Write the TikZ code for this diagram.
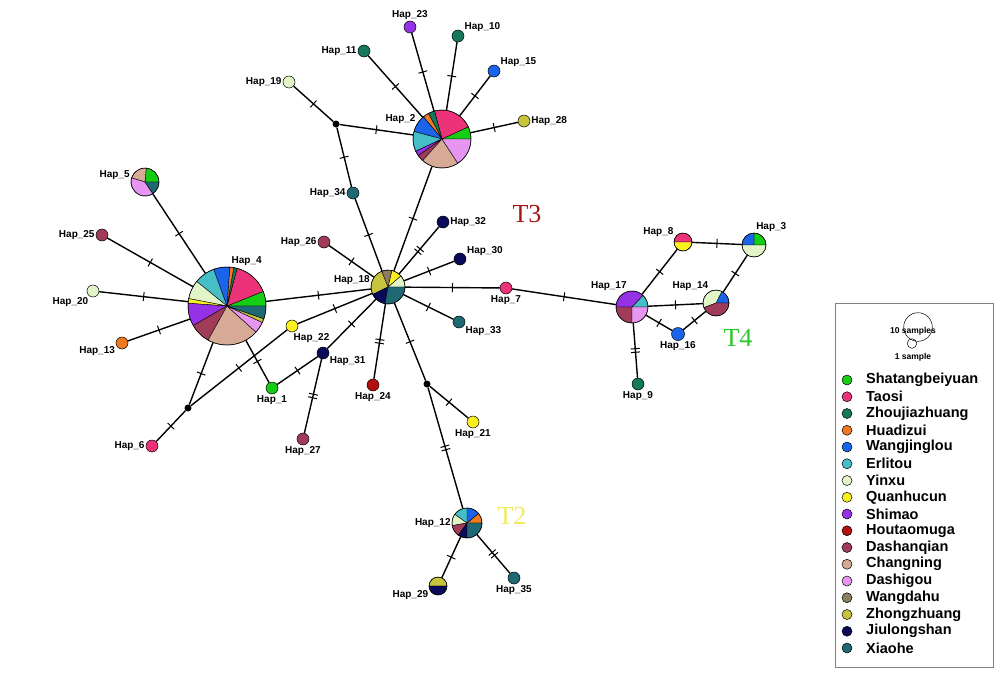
\documentclass[tikz,border=0pt]{standalone}
\usepackage{fontspec}
\setmainfont{Liberation Sans}
\newfontfamily\serifT{Liberation Serif}
\usetikzlibrary{decorations.markings}

\definecolor{shatang}{RGB}{20,205,20}
\definecolor{taosi}{RGB}{236,50,120}
\definecolor{zhoujia}{RGB}{20,120,90}
\definecolor{huadizui}{RGB}{240,120,30}
\definecolor{wangjing}{RGB}{25,100,235}
\definecolor{erlitou}{RGB}{70,190,200}
\definecolor{yinxu}{RGB}{225,245,200}
\definecolor{quanhu}{RGB}{250,240,30}
\definecolor{shimao}{RGB}{150,50,230}
\definecolor{houtao}{RGB}{180,15,15}
\definecolor{dashan}{RGB}{160,60,90}
\definecolor{changning}{RGB}{215,170,150}
\definecolor{dashigou}{RGB}{230,150,240}
\definecolor{wangdahu}{RGB}{140,125,95}
\definecolor{zhongzh}{RGB}{200,195,60}
\definecolor{jiulong}{RGB}{10,10,90}
\definecolor{xiaohe}{RGB}{30,105,115}
\definecolor{tred}{RGB}{170,20,20}
\definecolor{tyellow}{RGB}{240,235,90}
\definecolor{tgreen}{RGB}{40,200,40}

\tikzset{
  hap/.style={circle, draw=black, line width=0.5pt, inner sep=0pt, minimum size=12pt},
  piehap/.style={circle, inner sep=0pt},
  median/.style={circle, fill=black, inner sep=0pt, minimum size=7pt},
  lab/.style={font=\bfseries\fontsize{10}{12}\selectfont, inner sep=1pt},
  link/.style={line width=1.4pt},
  onetick/.style={link, postaction={decorate, decoration={markings,
      mark=at position 0.5 with {\draw[line width=1pt] (0,-4.5pt) -- (0,4.5pt);}}}},
  twotick/.style={link, postaction={decorate, decoration={markings,
      mark=at position 0.5 with {\draw[line width=1pt] (-1.8pt,-4.5pt) -- (-1.8pt,4.5pt) (1.8pt,-4.5pt) -- (1.8pt,4.5pt);}}}},
}

% pie on a node: node, radius, list of start/end/colour
\newcommand{\hapie}[3]{%
  \foreach \a/\b/\c in {#3} {
    \filldraw[fill=\c, draw=black, line width=0.4pt] (#1.center) -- ++(-\a:#2)
      arc[start angle=-\a, end angle=-\b, radius=#2] -- cycle;
  }
  \draw[line width=0.5pt] (#1.center) circle[radius=#2];
}

\begin{document}
\begin{tikzpicture}[x=1pt, y=-1pt]
\useasboundingbox (0,0) rectangle (1005,681);

% mixed haplotypes
\node[piehap, minimum size=78pt, label={[lab]85:Hap\_4}] (h4) at (227,306) {};
\node[piehap, minimum size=58pt, label={[lab]150:Hap\_2}] (h2) at (442,139) {};
\node[piehap, minimum size=34pt, label={[lab]176:Hap\_18}] (h18) at (388,287) {};
\node[piehap, minimum size=32pt, label={[lab]105:Hap\_17}] (h17) at (632,307) {};
\node[piehap, minimum size=26pt, label={[lab]120:Hap\_14}] (h14) at (716,303) {};
\node[piehap, minimum size=24pt, label={[lab]85:Hap\_3}] (h3) at (754,245) {};
\node[piehap, minimum size=18pt, label={[lab]155:Hap\_8}] (h8) at (683,242) {};
\node[piehap, minimum size=30pt, label={[lab]left:Hap\_12}] (h12) at (467,523) {};
\node[piehap, minimum size=18pt, label={[lab]200:Hap\_29}] (h29) at (438,586) {};
\node[piehap, minimum size=28pt, label={[lab]175:Hap\_5}] (h5) at (145,182) {};

% single haplotypes
\node[hap, fill=shimao, label={[lab]above:Hap\_23}] (h23) at (410,27) {};
\node[hap, fill=zhoujia, label={[lab]30:Hap\_10}] (h10) at (458,36) {};
\node[hap, fill=zhoujia, label={[lab]left:Hap\_11}] (h11) at (364,51) {};
\node[hap, fill=wangjing, label={[lab]30:Hap\_15}] (h15) at (494,71) {};
\node[hap, fill=yinxu, label={[lab]left:Hap\_19}] (h19) at (289,82) {};
\node[hap, fill=zhongzh, label={[lab]right:Hap\_28}] (h28) at (524,121) {};
\node[hap, fill=xiaohe, label={[lab]left:Hap\_34}] (h34) at (353,193) {};
\node[hap, fill=jiulong, label={[lab]right:Hap\_32}] (h32) at (443,222) {};
\node[hap, fill=dashan, label={[lab]left:Hap\_26}] (h26) at (324,242) {};
\node[hap, fill=jiulong, label={[lab]20:Hap\_30}] (h30) at (460,259) {};
\node[hap, fill=taosi, label={[lab]below:Hap\_7}] (h7) at (506,288) {};
\node[hap, fill=xiaohe, label={[lab]-30:Hap\_33}] (h33) at (459,322) {};
\node[hap, fill=quanhu, label={[lab]-85:Hap\_22}] (h22) at (292,326) {};
\node[hap, fill=jiulong, label={[lab]-25:Hap\_31}] (h31) at (323,353) {};
\node[hap, fill=shatang, label={[lab]below:Hap\_1}] (h1) at (272,388) {};
\node[hap, fill=houtao, label={[lab]below:Hap\_24}] (h24) at (373,385) {};
\node[hap, fill=dashan, label={[lab]below:Hap\_27}] (h27) at (303,439) {};
\node[hap, fill=quanhu, label={[lab]below:Hap\_21}] (h21) at (473,422) {};
\node[hap, fill=taosi, label={[lab]left:Hap\_6}] (h6) at (152,446) {};
\node[hap, fill=dashan, label={[lab]left:Hap\_25}] (h25) at (102,235) {};
\node[hap, fill=yinxu, label={[lab]235:Hap\_20}] (h20) at (93,291) {};
\node[hap, fill=huadizui, label={[lab]200:Hap\_13}] (h13) at (122,343) {};
\node[hap, fill=wangjing, minimum size=13pt, label={[lab]below:Hap\_16}] (h16) at (678,334) {};
\node[hap, fill=zhoujia, label={[lab]below:Hap\_9}] (h9) at (638,384) {};
\node[hap, fill=xiaohe, label={[lab]below:Hap\_35}] (h35) at (514,578) {};

% median vectors
\node[median] (m1) at (336,124) {};
\node[median] (m2) at (188,408) {};
\node[median] (m3) at (427,384) {};

% links
\draw[onetick] (h4) -- (h5);
\draw[onetick] (h4) -- (h25);
\draw[onetick] (h4) -- (h20);
\draw[onetick] (h4) -- (h13);
\draw[onetick] (h4) -- (h18);
\draw[onetick] (h4) -- (h1);
\draw[onetick] (h4) -- (m2);
\draw[onetick] (m2) -- (h6);
\draw[onetick] (m2) -- (h22);
\draw[onetick] (h22) -- (h18);
\draw[onetick] (h1) -- (h31);
\draw[onetick] (h31) -- (h18);
\draw[twotick] (h31) -- (h27);
\draw[twotick] (h18) -- (h24);
\draw[onetick] (h18) -- (m3);
\draw[onetick] (m3) -- (h21);
\draw[twotick] (m3) -- (h12);
\draw[onetick] (h12) -- (h29);
\draw[twotick] (h12) -- (h35);
\draw[onetick] (h18) -- (h33);
\draw[onetick] (h18) -- (h7);
\draw[onetick] (h7) -- (h17);
\draw[onetick] (h18) -- (h30);
\draw[twotick] (h18) -- (h32);
\draw[onetick] (h18) -- (h2);
\draw[onetick] (h18) -- (h34);
\draw[onetick] (h18) -- (h26);
\draw[onetick] (h34) -- (m1);
\draw[onetick] (m1) -- (h19);
\draw[onetick] (m1) -- (h2);
\draw[onetick] (h2) -- (h11);
\draw[onetick] (h2) -- (h23);
\draw[onetick] (h2) -- (h10);
\draw[onetick] (h2) -- (h15);
\draw[onetick] (h2) -- (h28);
\draw[onetick] (h17) -- (h8);
\draw[onetick] (h8) -- (h3);
\draw[onetick] (h3) -- (h14);
\draw[onetick] (h17) -- (h14);
\draw[onetick] (h17) -- (h16);
\draw[onetick] (h16) -- (h14);
\draw[twotick] (h17) -- (h9);

% pies
\hapie{h4}{39}{0/22/shatang, 22/75/taosi, 75/80/zhoujia, 80/86/huadizui, 86/110/wangjing,
  110/141/erlitou, 141/169/yinxu, 169/176/quanhu, 176/210/shimao, 210/241/dashan,
  241/318/changning, 318/335/dashigou, 335/341/zhongzh, 341/360/xiaohe}
\hapie{h2}{29}{0/25/shatang, 25/105/taosi, 105/118/zhoujia, 118/130/huadizui, 130/165/wangjing,
  165/205/erlitou, 205/215/shimao, 215/228/dashan, 228/303/changning, 303/360/dashigou}
\hapie{h18}{17}{0/41/yinxu, 41/77/quanhu, 77/112/wangdahu, 112/206/zhongzh, 206/260/jiulong, 260/360/xiaohe}
\hapie{h17}{16}{0/47/erlitou, 47/180/shimao, 180/270/dashan, 270/360/dashigou}
\hapie{h14}{13}{0/63/wangjing, 63/201/yinxu, 201/360/dashan}
\hapie{h3}{12}{0/90/shatang, 90/180/wangjing, 180/360/yinxu}
\hapie{h8}{9}{0/180/taosi, 180/360/quanhu}
\hapie{h12}{15}{0/40/huadizui, 40/90/wangjing, 90/145/erlitou, 145/190/yinxu, 190/235/dashan,
  235/270/jiulong, 270/360/xiaohe}
\hapie{h29}{9}{0/180/zhongzh, 180/360/jiulong}
\hapie{h5}{14}{0/85/shatang, 85/163/changning, 163/304/dashigou, 304/360/xiaohe}

% clade names
\node[font=\serifT\fontsize{26}{26}\selectfont, text=tred] (t3) at (527,214) {T3};
\node[font=\serifT\fontsize{26}{26}\selectfont, text=tyellow] (t2) at (512,516) {T2};
\node[font=\serifT\fontsize{26}{26}\selectfont, text=tgreen] (t4) at (738,338) {T4};

% legend
\draw[gray, line width=0.8pt] (835,303) rectangle (993,667);
\node[circle, draw, line width=0.5pt, minimum size=28.6pt, inner sep=0pt] (big) at (918,327) {};
\node[circle, draw, line width=0.5pt, minimum size=9.5pt, inner sep=0pt] (small) at (912,343.5) {};
\node[font=\bfseries\fontsize{8.5}{10}\selectfont, inner sep=0pt] (tenlab) at (913,331) {10 samples};
\node[font=\bfseries\fontsize{8.5}{10}\selectfont, inner sep=0pt] (onelab) at (913,357) {1 sample};
\foreach \site/\col [count=\i] in {Shatangbeiyuan/shatang, Taosi/taosi, Zhoujiazhuang/zhoujia,
    Huadizui/huadizui, Wangjinglou/wangjing, Erlitou/erlitou, Yinxu/yinxu, Quanhucun/quanhu,
    Shimao/shimao, Houtaomuga/houtao, Dashanqian/dashan, Changning/changning, Dashigou/dashigou,
    Wangdahu/wangdahu, Zhongzhuang/zhongzh, Jiulongshan/jiulong, Xiaohe/xiaohe} {
  \node[hap, fill=\col, minimum size=10pt] (key\i) at (847,{380+16.75*(\i-1)}) {};
  \node[font=\bfseries\fontsize{14.5}{15}\selectfont, anchor=west, inner sep=0pt] (site\i)
    at (866,{380+16.75*(\i-1)}) {\site};
}
\end{tikzpicture}
\end{document}
